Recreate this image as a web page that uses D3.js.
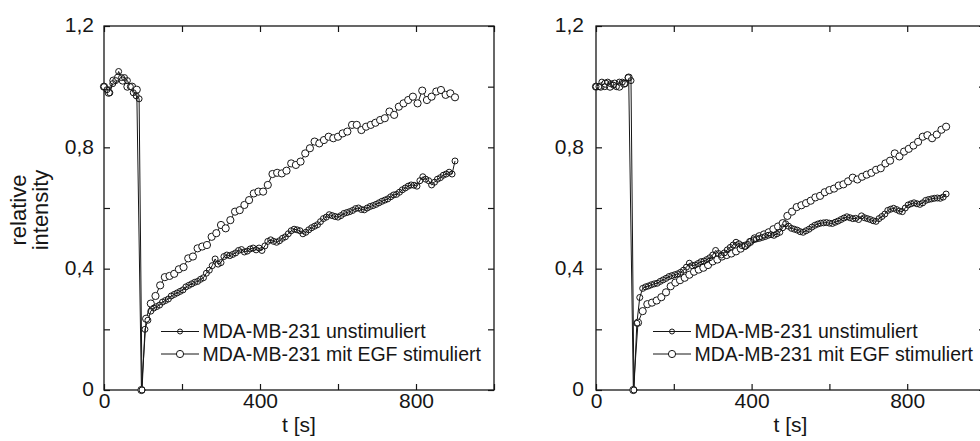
<!DOCTYPE html>
<html>
<head>
<meta charset="utf-8">
<script src="https://cdn.jsdelivr.net/npm/d3@7"></script>
<style>
  html, body { margin: 0; padding: 0; background: #fff; }
  svg { display: block; font-family: "Liberation Sans", Arial, Helvetica, sans-serif; }
</style>
</head>
<body>
<svg id="chart" width="980" height="441"></svg>
<script>
// FRAP recovery curves: relative intensity over time, two cell experiments side by side.

const seriesNames = ["MDA-MB-231 unstimuliert", "MDA-MB-231 mit EGF stimuliert"];

// axis ticks and their labels
const xTickValues = [0, 200, 400, 600, 800, 1000];
const xTickLabels = ["0", "", "400", "", "800", ""];
const yTickValues = [0, 0.2, 0.4, 0.6, 0.8, 1.0, 1.2];
const yTickLabels = ["0", "", "0,4", "", "0,8", "", "1,2"];
const xTitle = "t [s]";
const yTitleLines = ["relative", "intensity"];

// sampling interval of each series, in seconds
const stepUnstim = 7.5;
const stepEGF = 12;

// left experiment, unstimulated cells (one value every 7.5 s from t = 0)
const leftUnstim = [
  1.00, 0.99, 0.98, 1.01, 1.02, 1.05, 1.03, 1.03, 1.02, 1.00, 0.98, 0.97, 0.96,
  0.00,
  0.20, 0.23, 0.26, 0.27, 0.275, 0.28, 0.29, 0.295, 0.30, 0.31,
  0.315, 0.32, 0.325, 0.33, 0.34, 0.345, 0.35, 0.355, 0.358, 0.365,
  0.37, 0.385, 0.395, 0.41, 0.432, 0.415, 0.42, 0.44, 0.445, 0.443,
  0.447, 0.452, 0.46, 0.463, 0.455, 0.458, 0.465, 0.468, 0.462, 0.468,
  0.46, 0.475, 0.49, 0.495, 0.49, 0.487, 0.492, 0.50, 0.505, 0.515,
  0.525, 0.53, 0.528, 0.525, 0.515, 0.52, 0.528, 0.535, 0.54, 0.545,
  0.555, 0.565, 0.57, 0.578, 0.575, 0.572, 0.57, 0.575, 0.582, 0.585,
  0.588, 0.592, 0.598, 0.60, 0.595, 0.594, 0.60, 0.605, 0.608, 0.612,
  0.617, 0.622, 0.626, 0.63, 0.637, 0.643, 0.645, 0.652, 0.66, 0.666,
  0.672, 0.676, 0.675, 0.672, 0.69, 0.703, 0.695, 0.69, 0.676, 0.685,
  0.695, 0.70, 0.708, 0.712, 0.718, 0.712, 0.755
];

// left experiment, EGF-stimulated cells (one value every 12 s from t = 0)
const leftEGF = [
  1.00, 0.98, 1.02, 1.03, 1.02, 1.00, 1.00, 0.99,
  0.00,
  0.235, 0.285, 0.31, 0.345, 0.372, 0.376, 0.383, 0.398, 0.405, 0.434,
  0.44, 0.467, 0.473, 0.478, 0.505, 0.517, 0.544, 0.533, 0.56, 0.588,
  0.593, 0.61, 0.626, 0.648, 0.654, 0.654, 0.676, 0.712, 0.716, 0.714,
  0.723, 0.747, 0.742, 0.753, 0.78, 0.797, 0.819, 0.813, 0.824, 0.835,
  0.83, 0.835, 0.846, 0.852, 0.874, 0.874, 0.857, 0.868, 0.874, 0.881,
  0.89, 0.896, 0.918, 0.907, 0.934, 0.945, 0.956, 0.967, 0.945, 0.987,
  0.956, 0.967, 0.984, 0.989, 0.973, 0.978, 0.965
];

// right experiment, unstimulated cells
const rightUnstim = [
  1.00, 1.00, 1.015, 1.00, 1.015, 1.01, 1.005, 1.00, 1.015, 1.015, 1.01, 1.03, 1.02,
  0.00,
  0.22, 0.305, 0.335, 0.34, 0.343, 0.347, 0.35, 0.352, 0.358, 0.363,
  0.368, 0.374, 0.377, 0.38, 0.383, 0.388, 0.395, 0.405, 0.418, 0.41,
  0.412, 0.417, 0.423, 0.425, 0.43, 0.436, 0.445, 0.46, 0.45, 0.445,
  0.452, 0.462, 0.47, 0.478, 0.487, 0.482, 0.476, 0.473, 0.48, 0.49,
  0.495, 0.498, 0.50, 0.503, 0.506, 0.51, 0.512, 0.51, 0.515, 0.52,
  0.535, 0.548, 0.54, 0.533, 0.53, 0.527, 0.522, 0.52, 0.525, 0.53,
  0.537, 0.543, 0.547, 0.55, 0.551, 0.552, 0.55, 0.549, 0.553, 0.557,
  0.562, 0.567, 0.571, 0.568, 0.565, 0.566, 0.562, 0.574, 0.568, 0.565,
  0.562, 0.558, 0.556, 0.565, 0.572, 0.58, 0.592, 0.596, 0.599, 0.595,
  0.59, 0.588, 0.60, 0.61, 0.614, 0.617, 0.614, 0.612, 0.617, 0.625,
  0.628, 0.63, 0.632, 0.633, 0.632, 0.636, 0.646
];

// right experiment, EGF-stimulated cells
const rightEGF = [
  1.00, 1.00, 1.01, 1.00, 1.01, 1.00, 1.01, 1.03,
  0.00,
  0.222, 0.26, 0.283, 0.288, 0.295, 0.306, 0.322, 0.342, 0.354, 0.362,
  0.37, 0.38, 0.39, 0.397, 0.403, 0.412, 0.424, 0.43, 0.44, 0.445,
  0.45, 0.457, 0.466, 0.476, 0.488, 0.50, 0.507, 0.513, 0.52, 0.53,
  0.539, 0.55, 0.574, 0.588, 0.603, 0.609, 0.616, 0.624, 0.635, 0.64,
  0.652, 0.659, 0.664, 0.674, 0.678, 0.688, 0.70, 0.694, 0.703, 0.71,
  0.716, 0.726, 0.731, 0.747, 0.756, 0.78, 0.77, 0.786, 0.795, 0.806,
  0.818, 0.835, 0.84, 0.83, 0.842, 0.858, 0.868
];

// ---- layout ----
const plotTop = 26, plotBottom = 390;
const panels = [
  { left: 104, width: 390, unstim: leftUnstim, egf: leftEGF, yTitle: true, labelPad: 10 },
  { left: 596, width: 389, unstim: rightUnstim, egf: rightEGF, yTitle: false, labelPad: 12 }
];

const ink = "#161616";
const rEGF = 3.6, rUnstim = 3.0;
const svg = d3.select("#chart");

const toPoints = (values, step) => values.map((v, i) => ({ t: i * step, v }));

panels.forEach(p => {
  const h = plotBottom - plotTop;
  const x = d3.scaleLinear().domain([0, 1000]).range([0, p.width]);
  const y = d3.scaleLinear().domain([0, 1.2]).range([h, 0]);
  const g = svg.append("g").attr("transform", `translate(${p.left},${plotTop})`);

  const xLab = d => xTickLabels[xTickValues.indexOf(d)];
  const yLab = d => yTickLabels[yTickValues.findIndex(v => Math.abs(v - d) < 1e-9)];

  // inward ticks on all four sides
  const axB = g.append("g").attr("transform", `translate(0,${h})`)
    .call(d3.axisBottom(x).tickValues(xTickValues).tickSize(-6).tickPadding(3).tickFormat(xLab));
  const axT = g.append("g")
    .call(d3.axisTop(x).tickValues(xTickValues).tickSize(-6).tickFormat(""));
  const axL = g.append("g")
    .call(d3.axisLeft(y).tickValues(yTickValues).tickSize(-6).tickPadding(p.labelPad).tickFormat(yLab));
  const axR = g.append("g").attr("transform", `translate(${p.width},0)`)
    .call(d3.axisRight(y).tickValues(yTickValues).tickSize(-6).tickFormat(""));

  [axB, axT, axL, axR].forEach(a => {
    a.select(".domain").remove();
    a.selectAll(".tick line").attr("stroke", ink).attr("stroke-width", 1.2);
    a.selectAll(".tick text").attr("fill", ink).style("font-size", "21px")
      .style("font-family", "\"Liberation Sans\", Arial, sans-serif");
  });
  axL.selectAll(".tick text").attr("dy", "0.28em");

  // frame
  g.append("rect").attr("x", 0).attr("y", 0).attr("width", p.width).attr("height", h)
    .attr("fill", "none").attr("stroke", ink).attr("stroke-width", 1.3);

  // axis titles
  g.append("text").attr("x", p.width / 2).attr("y", 432 - plotTop)
    .attr("text-anchor", "middle").attr("fill", ink).style("font-size", "21px").text(xTitle);

  if (p.yTitle) {
    yTitleLines.forEach((line, i) => {
      g.append("text")
        .attr("transform", `translate(${26 + i * 22 - p.left},${210 - plotTop}) rotate(-90)`)
        .attr("text-anchor", "middle").attr("fill", ink).style("font-size", "22px").text(line);
    });
  }

  // series
  const line = d3.line().x(d => x(d.t)).y(d => y(d.v));
  const unstimPts = toPoints(p.unstim, stepUnstim);
  const egfPts = toPoints(p.egf, stepEGF);

  g.append("path").datum(unstimPts).attr("d", line)
    .attr("fill", "none").attr("stroke", ink).attr("stroke-width", 1);
  g.append("path").datum(egfPts).attr("d", line)
    .attr("fill", "none").attr("stroke", ink).attr("stroke-width", 1);

  g.append("g").selectAll("circle").data(egfPts).join("circle")
    .attr("cx", d => x(d.t)).attr("cy", d => y(d.v)).attr("r", rEGF)
    .attr("fill", "#fff").attr("stroke", ink).attr("stroke-width", 1);
  g.append("g").selectAll("circle").data(unstimPts).join("circle")
    .attr("cx", d => x(d.t)).attr("cy", d => y(d.v)).attr("r", rUnstim)
    .attr("fill", "none").attr("stroke", ink).attr("stroke-width", 1);

  // legend
  const legend = g.append("g");
  const rows = [
    { name: seriesNames[0], r: rUnstim - 0.5, fill: "none", y: 331.5 - plotTop },
    { name: seriesNames[1], r: rEGF, fill: "#fff", y: 354 - plotTop }
  ];
  rows.forEach(row => {
    legend.append("line").attr("x1", 57).attr("x2", 95).attr("y1", row.y).attr("y2", row.y)
      .attr("stroke", ink).attr("stroke-width", 1);
    legend.append("circle").attr("cx", 76).attr("cy", row.y).attr("r", row.r)
      .attr("fill", row.fill).attr("stroke", ink).attr("stroke-width", 1);
    legend.append("text").attr("x", 98.5).attr("y", row.y).attr("dy", "0.35em")
      .attr("fill", ink).style("font-size", "19.5px").text(row.name);
  });
});
</script>
</body>
</html>
